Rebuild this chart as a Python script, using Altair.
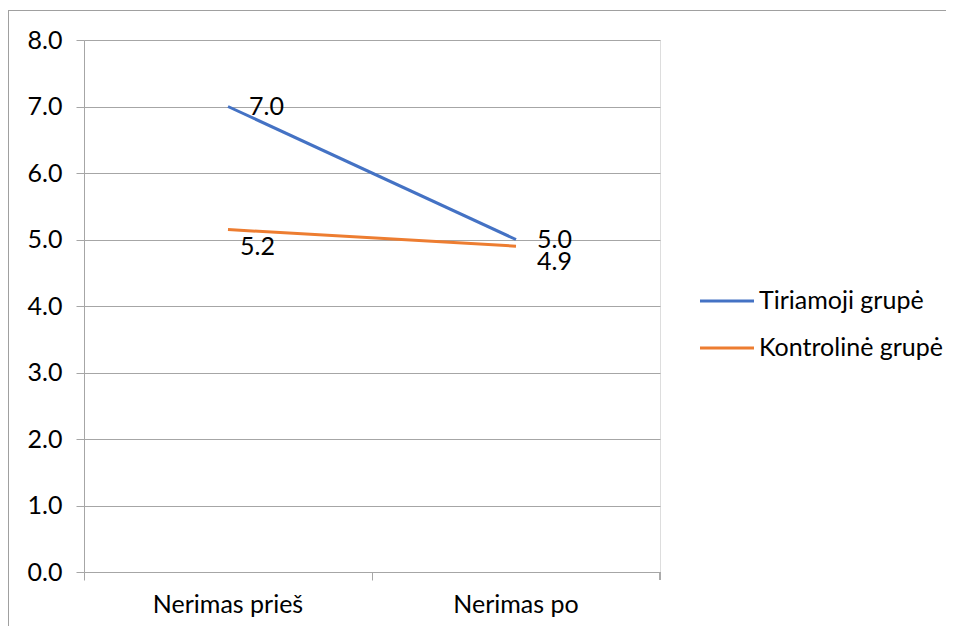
import altair as alt
import pandas as pd

categories = ["Nerimas prieš", "Nerimas po"]
series = ["Tiriamoji grupė", "Kontrolinė grupė"]
tiriamoji = [7.0, 5.0]
kontroline = [5.15, 4.9]
colors = ["#4472C4", "#ED7D31"]

rows = []
for c, v in zip(categories, tiriamoji):
    rows.append({"cat": c, "series": series[0], "value": v})
for c, v in zip(categories, kontroline):
    rows.append({"cat": c, "series": series[1], "value": v})
df = pd.DataFrame(rows)

FONT = "Lato"
FS = 25
GRID = "#A6A6A6"
W, H = 576, 532
PADL, PADT, PADR, PADB = 76, 32, 286, 54

x_enc = alt.X(
    "cat:N",
    sort=categories,
    scale=alt.Scale(type="band", paddingInner=0, paddingOuter=0),
    axis=alt.Axis(
        title=None,
        bandPosition=0,
        labelAngle=0,
        labelFont=FONT,
        labelFontSize=FS,
        labelColor="#000000",
        labelPadding=12,
        labelLimit=400,
        tickSize=8,
        tickColor=GRID,
        domainColor=GRID,
        grid=False,
    ),
)
y_enc = alt.Y(
    "value:Q",
    scale=alt.Scale(domain=[0, 8], nice=False, zero=True),
    axis=alt.Axis(
        title=None,
        values=[0, 1, 2, 3, 4, 5, 6, 7, 8],
        format=".1f",
        labelFont=FONT,
        labelFontSize=FS,
        labelColor="#000000",
        labelPadding=14,
        tickSize=8,
        tickColor=GRID,
        domainColor=GRID,
        gridColor=GRID,
        grid=True,
    ),
)
color_enc = alt.Color(
    "series:N",
    sort=series,
    scale=alt.Scale(domain=series, range=colors),
    legend=None,
)

base = alt.Chart(df).encode(x=x_enc, y=y_enc)

lines = base.mark_line(strokeWidth=3).encode(color=color_enc)

lbl_blue = base.transform_filter(alt.datum.series == series[0]).mark_text(
    align="left", baseline="middle", dx=21, font=FONT, fontSize=FS, color="#000000"
).encode(text=alt.Text("value:Q", format=".1f"))

lbl_or1 = base.transform_filter(
    (alt.datum.series == series[1]) & (alt.datum.cat == categories[0])
).mark_text(
    align="left", baseline="middle", dx=12, dy=17, font=FONT, fontSize=FS, color="#000000"
).encode(text=alt.Text("value:Q", format=".1f"))

lbl_or2 = base.transform_filter(
    (alt.datum.series == series[1]) & (alt.datum.cat == categories[1])
).mark_text(
    align="left", baseline="middle", dx=21, dy=16, font=FONT, fontSize=FS, color="#000000"
).encode(text=alt.Text("value:Q", format=".1f"))

end_tick = alt.Chart(df).mark_rule(color=GRID, strokeWidth=1).encode(
    x=alt.value(W), y=alt.value(H), y2=alt.value(H + 8)
)

border_left = alt.Chart(df).mark_rule(color="#A0A0A0", strokeWidth=1).encode(
    x=alt.value(-PADL + 0.5), y=alt.value(-PADT + 2), y2=alt.value(H + PADB)
)
border_top = alt.Chart(df).mark_rule(color="#A0A0A0", strokeWidth=1).encode(
    x=alt.value(-PADL + 0.5), x2=alt.value(W + PADR), y=alt.value(-PADT + 2.5)
)

# Legend (drawn manually for Excel-like spacing)
legend_layers = []
LEG_X0, LEG_X1, LEG_Y0, LEG_STEP = 616, 670, 261, 47
for i, (s, col) in enumerate(zip(series, colors)):
    ldf = pd.DataFrame({"series": [s]})
    legend_layers.append(
        alt.Chart(ldf).mark_rule(color=col, strokeWidth=3).encode(
            x=alt.value(LEG_X0), x2=alt.value(LEG_X1), y=alt.value(LEG_Y0 + i * LEG_STEP)
        )
    )
    legend_layers.append(
        alt.Chart(ldf).mark_text(
            align="left", baseline="middle", font=FONT, fontSize=FS, color="#000000", dx=5
        ).encode(
            x=alt.value(LEG_X1), y=alt.value(LEG_Y0 + i * LEG_STEP), text="series:N"
        )
    )

chart = (
    alt.layer(border_left, border_top, end_tick, lines, lbl_blue, lbl_or1, lbl_or2, *legend_layers)
    .properties(
        width=W,
        height=H,
        autosize=alt.AutoSizeParams(type="none"),
        padding={"left": PADL, "top": PADT, "right": PADR, "bottom": PADB},
    )
    .configure_view(stroke=None)
    .configure(font=FONT)
)

chart.save("out.html", embed_options={"renderer": "svg", "actions": False})
